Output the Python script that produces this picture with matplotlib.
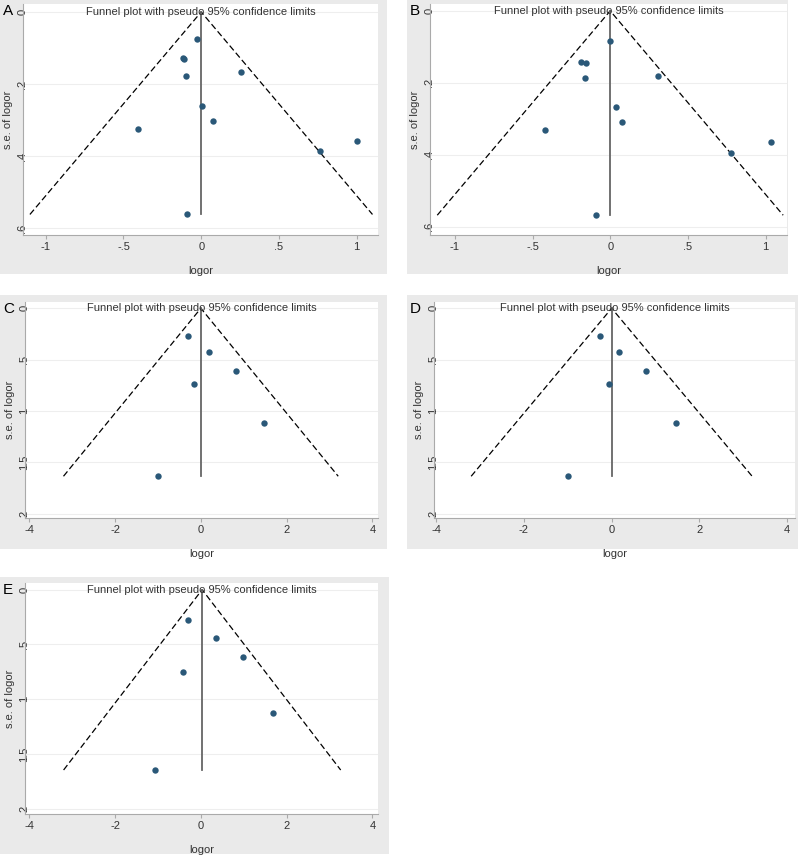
import matplotlib.pyplot as plt
from matplotlib.transforms import blended_transform_factory
import numpy as np

plt.rcParams['font.family'] = ['Liberation Sans', 'DejaVu Sans']

# study estimates
a_logor = [-0.026, -0.115, -0.108, -0.096, 0.253, 0.004, 0.077, -0.405, 1.003, 0.763, -0.090]
a_se = [0.075, 0.129, 0.131, 0.178, 0.166, 0.261, 0.304, 0.326, 0.358, 0.387, 0.562]

b_logor = [-0.004, -0.187, -0.159, -0.161, 0.305, 0.037, 0.079, -0.419, 1.033, 0.780, -0.092]
b_se = [0.083, 0.142, 0.144, 0.186, 0.181, 0.267, 0.310, 0.331, 0.365, 0.394, 0.568]

c_logor = [-0.29, 0.20, 0.815, -0.149, 1.468, -1.002]
c_se = [0.272, 0.425, 0.607, 0.736, 1.119, 1.634]

d_logor = [-0.273, 0.167, 0.774, -0.068, 1.465, -0.987]
d_se = [0.272, 0.428, 0.607, 0.736, 1.119, 1.634]

e_logor = [-0.30, 0.35, 0.993, -0.42, 1.678, -1.072]
e_se = [0.278, 0.443, 0.613, 0.748, 1.129, 1.648]

pooled = {"A": 0.0, "B": 0.0, "C": 0.0, "D": 0.0, "E": 0.03}

small_xticks = [-1, -0.5, 0, 0.5, 1]
small_xlabels = ["-1", "-.5", "0", ".5", "1"]
small_yticks = [0, 0.2, 0.4, 0.6]
small_ylabels = ["0", ".2", ".4", ".6"]
big_xticks = [-4, -2, 0, 2, 4]
big_xlabels = ["-4", "-2", "0", "2", "4"]
big_yticks = [0, 0.5, 1, 1.5, 2]
big_ylabels = ["0", ".5", "1", "1.5", "2"]

W, H = 800, 857
BG = "#eaeaea"
MARK = "#2a5878"
TXT = "#333333"
AXC = "#aaaaaa"


def frac(x0, y0, x1, y1):
	return [x0 / W, 1 - y1 / H, (x1 - x0) / W, (y1 - y0) / H]


def funnel_panel(fig, letter, grey_box, plot_box, logor, se, xlim, ylim, xticks, xlabels, yticks, ylabels):
	bg = fig.add_axes(frac(*grey_box))
	bg.set_facecolor(BG)
	bg.set_xticks([])
	bg.set_yticks([])
	for s in bg.spines.values():
		s.set_visible(False)

	ax = fig.add_axes(frac(*plot_box))
	ax.set_facecolor("white")
	mid = pooled[letter]
	smax = max(se)
	ax.plot([mid - 1.96 * smax, mid, mid + 1.96 * smax], [smax, 0, smax], color="black", linestyle=(0, (5, 2.5)), linewidth=0.9)
	ax.plot([mid, mid], [0, smax], color="#666666", linewidth=1.3)
	ax.plot(logor, se, 'o', color=MARK, markersize=4.6, markeredgewidth=0)
	for t in yticks:
		ax.axhline(t, color="#eeeeee", linewidth=0.8, zorder=0)
	ax.set_xlim(xlim)
	ax.set_ylim(ylim)
	ax.set_xticks(xticks)
	ax.set_xticklabels(xlabels)
	ax.set_yticks(yticks)
	ax.set_yticklabels(ylabels, rotation=90, va="center")
	ax.tick_params(axis="both", colors=AXC, labelcolor=TXT, labelsize=8, length=3, width=0.8, pad=2)
	ax.tick_params(axis="y", length=0, pad=-3)
	ax.spines["top"].set_visible(False)
	ax.spines["right"].set_visible(False)
	ax.spines["left"].set_color(AXC)
	ax.spines["bottom"].set_color(AXC)
	ax.set_xlabel("logor", fontsize=8, color=TXT, labelpad=10)
	ax.set_ylabel("s.e. of logor", fontsize=8, color=TXT)
	ax.yaxis.set_label_coords(-10.0 / (plot_box[2] - plot_box[0]), 0.5)
	tr = blended_transform_factory(ax.transAxes, ax.transData)
	ax.text(0.5, 0, "Funnel plot with pseudo 95% confidence limits", transform=tr, ha="center", va="center", fontsize=8, color=TXT)
	fig.text(grey_box[0] / W + 0.004, 1 - (plot_box[1] + 7) / H, letter, fontsize=11, color="black", ha="left", va="center")


fig = plt.figure(figsize=(8, 8.57), dpi=100)
fig.patch.set_facecolor("white")

funnel_panel(fig, "A", (0, 0, 387, 274), (23, 4, 378, 235), a_logor, a_se, (-1.146, 1.137), (0.619, -0.022),
	small_xticks, small_xlabels, small_yticks, small_ylabels)
funnel_panel(fig, "B", (407, 0, 788, 274), (430, 4, 787, 235), b_logor, b_se, (-1.16, 1.138), (0.623, -0.019),
	small_xticks, small_xlabels, small_yticks, small_ylabels)
funnel_panel(fig, "C", (0, 295, 387, 549), (25, 302, 378, 518), c_logor, c_se, (-4.1, 4.13), (2.04, -0.061),
	big_xticks, big_xlabels, big_yticks, big_ylabels)
funnel_panel(fig, "D", (407, 295, 798, 549), (434, 302, 795, 518), d_logor, d_se, (-4.05, 4.18), (2.04, -0.061),
	big_xticks, big_xlabels, big_yticks, big_ylabels)
funnel_panel(fig, "E", (0, 577, 389, 854), (25, 583, 378, 814), e_logor, e_se, (-4.1, 4.13), (2.05, -0.061),
	big_xticks, big_xlabels, big_yticks, big_ylabels)

plt.savefig("out.png", dpi=100)
plt.close()
